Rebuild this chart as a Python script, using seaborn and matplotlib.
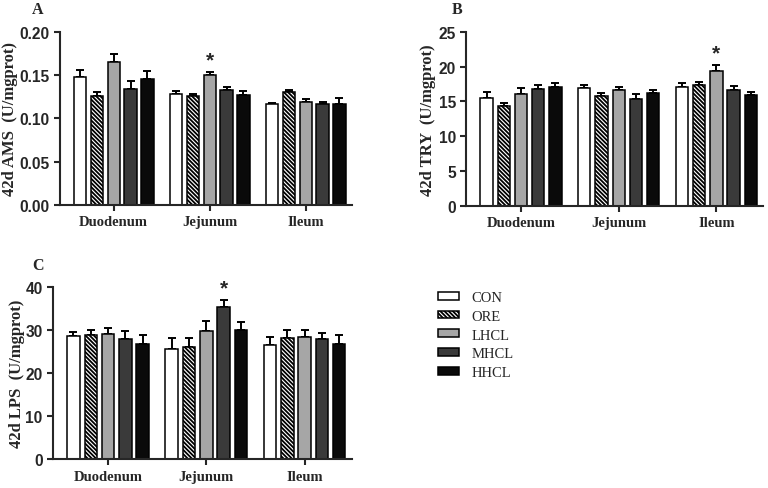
import numpy as np
import pandas as pd
import matplotlib
matplotlib.use('Agg')
import matplotlib.pyplot as plt
from matplotlib.patches import Patch
from matplotlib.ticker import FormatStrFormatter
import seaborn as sns

segments = ['Duodenum', 'Jejunum', 'Ileum']
groups = ['CON', 'ORE', 'LHCL', 'MHCL', 'HHCL']
colors = ['#ffffff', '#ffffff', '#a6a6a6', '#3a3a3a', '#0a0a0a']

# means / SEM per segment, one row per segment (order of groups)
ams_mean = [[0.148, 0.126, 0.165, 0.134, 0.146],
            [0.128, 0.126, 0.150, 0.133, 0.127],
            [0.117, 0.130, 0.119, 0.116, 0.117]]
ams_sem = [[0.008, 0.004, 0.009, 0.009, 0.009],
           [0.004, 0.002, 0.003, 0.003, 0.004],
           [0.001, 0.003, 0.003, 0.003, 0.007]]

try_mean = [[15.5, 14.4, 16.0, 16.8, 17.0],
            [16.9, 15.8, 16.6, 15.4, 16.2],
            [17.0, 17.4, 19.3, 16.6, 15.9]]
try_sem = [[0.8, 0.4, 0.9, 0.5, 0.6],
           [0.5, 0.4, 0.5, 0.6, 0.4],
           [0.7, 0.4, 0.9, 0.6, 0.4]]

lps_mean = [[28.6, 28.9, 29.1, 28.0, 26.8],
            [25.7, 26.0, 29.7, 35.3, 29.9],
            [26.6, 28.1, 28.4, 28.0, 26.8]]
lps_sem = [[1.0, 1.1, 1.4, 1.8, 2.0],
           [2.5, 2.1, 2.3, 1.6, 1.9],
           [1.8, 1.9, 1.7, 1.2, 2.0]]

# (segment, group) of the starred bar
ams_star = ('Jejunum', 'LHCL')
try_star = ('Ileum', 'LHCL')
lps_star = ('Jejunum', 'MHCL')

sns.set_style('ticks')
plt.rcParams['hatch.linewidth'] = 1.3
plt.rcParams['axes.linewidth'] = 1.5

SERIF = 'Liberation Serif'
SANS = 'Liberation Sans'
HATCH = '\\' * 8


def long_table(means, sems):
    rows = []
    for i, seg in enumerate(segments):
        for j, grp in enumerate(groups):
            rows.append({'segment': seg, 'group': grp,
                         'mean': means[i][j], 'sem': sems[i][j]})
    return pd.DataFrame(rows)


def draw_panel(ax, means, sems, star, ylabel, ylim, step, fmt, label_x):
    df = long_table(means, sems)
    sns.barplot(data=df, x='segment', y='mean', hue='group', order=segments,
                hue_order=groups, palette=dict(zip(groups, colors)),
                errorbar=None, width=0.88, gap=0.28, edgecolor='black',
                linewidth=1.1, legend=False, ax=ax, zorder=2)
    bar_sets = list(ax.containers)
    for j, cont in enumerate(bar_sets):
        sub = df[df['group'] == groups[j]].set_index('segment').loc[segments]
        xs = [p.get_x() + p.get_width() / 2 for p in cont.patches]
        if groups[j] == 'ORE':
            for p in cont.patches:
                p.set_hatch(HATCH)
        ax.errorbar(xs, sub['mean'], yerr=[np.zeros(len(xs)), sub['sem']],
                    fmt='none', ecolor='black', elinewidth=1.4, capsize=3,
                    capthick=1.4, zorder=1)
        if star[1] == groups[j]:
            k = segments.index(star[0])
            top = sub['mean'].iloc[k] + sub['sem'].iloc[k]
            ax.annotate('*', (xs[k], top), xytext=(0, 2), textcoords='offset points',
                        ha='center', va='bottom', fontsize=15, fontweight='bold',
                        family=SANS)
    ax.set_ylim(*ylim)
    ax.set_yticks(np.arange(ylim[0], ylim[1] + step / 2, step))
    ax.yaxis.set_major_formatter(FormatStrFormatter(fmt))
    ax.set_xlim(-0.56, 2.48)
    ax.set_xlabel('')
    ax.set_ylabel(ylabel, family=SERIF, fontweight='bold', fontsize=12)
    ax.yaxis.set_label_coords(label_x, 0.5)
    ax.tick_params(axis='both', width=1.5, length=4, direction='out')
    for lab in ax.get_yticklabels():
        lab.set_family(SANS)
        lab.set_fontweight('bold')
        lab.set_fontsize(11.2)
    for lab in ax.get_xticklabels():
        lab.set_family(SERIF)
        lab.set_fontweight('bold')
        lab.set_fontsize(10.5)
    sns.despine(ax=ax)


fig = plt.figure(figsize=(7.68, 4.89), dpi=100)
ax_a = fig.add_axes([0.078, 0.579, 0.380, 0.354])
ax_b = fig.add_axes([0.607, 0.577, 0.387, 0.356])
ax_c = fig.add_axes([0.069, 0.059, 0.389, 0.352])

draw_panel(ax_a, ams_mean, ams_sem, ams_star, '42d AMS  (U/mgprot)', (0, 0.20), 0.05, '%.2f', -0.145)
draw_panel(ax_b, try_mean, try_sem, try_star, '42d TRY  (U/mgprot)', (0, 25), 5, '%d', -0.1)
draw_panel(ax_c, lps_mean, lps_sem, lps_star, '42d LPS  (U/mgprot)', (0, 40), 10, '%d', -0.095)

# panel letters
for letter, x, y in [('A', 32, 14), ('B', 452, 14), ('C', 32, 270)]:
    fig.text(x / 768, 1 - y / 489, letter, family=SERIF, fontweight='bold',
             fontsize=11.5, ha='left', va='baseline')

handles = []
for g, c in zip(groups, colors):
    handles.append(Patch(facecolor=c, edgecolor='black', linewidth=1.1,
                         hatch=HATCH if g == 'ORE' else None, label=g))
fig.legend(handles=handles, loc='upper left', bbox_to_anchor=(0.5535, 0.43),
           frameon=False, prop={'family': SERIF, 'size': 10.5},
           handlelength=1.4, handleheight=0.45, labelspacing=0.4, handletextpad=0.9)

fig.savefig('out.png', dpi=100)
